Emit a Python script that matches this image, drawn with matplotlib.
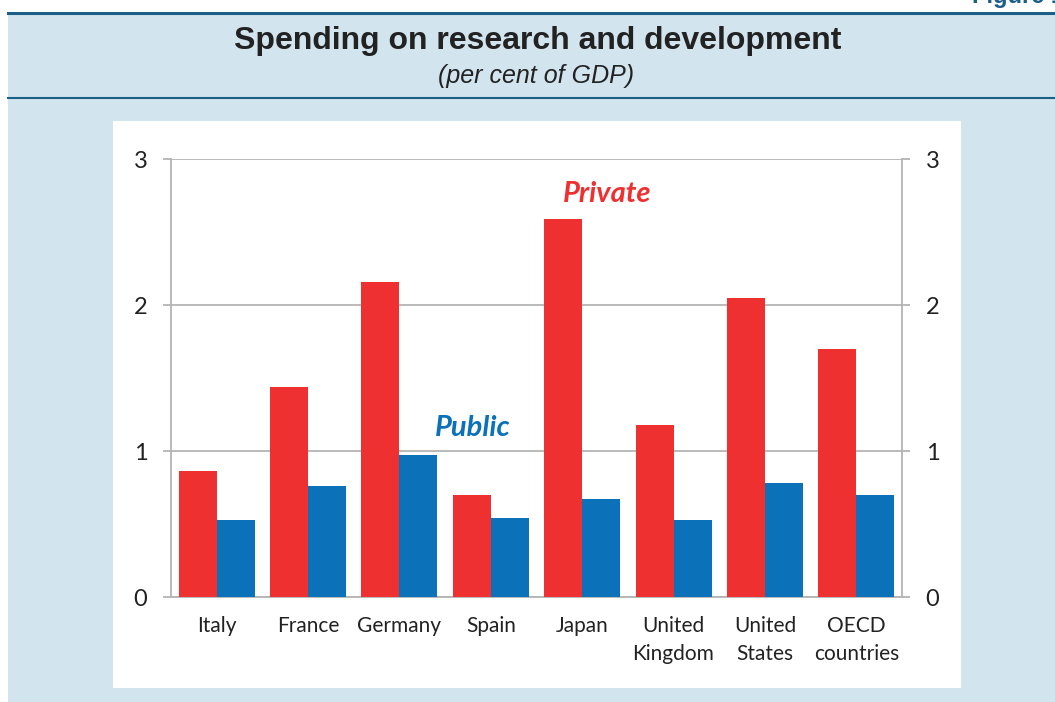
import matplotlib.pyplot as plt
import numpy as np
from matplotlib.patches import Rectangle
from matplotlib.lines import Line2D

# values (per cent of GDP)
countries = ['Italy', 'France', 'Germany', 'Spain', 'Japan',
             'United\nKingdom', 'United\nStates', 'OECD\ncountries']
private = [0.86, 1.44, 2.16, 0.70, 2.59, 1.18, 2.05, 1.70]
public = [0.53, 0.76, 0.97, 0.54, 0.67, 0.53, 0.78, 0.70]
yticks = [0, 1, 2, 3]

W, H = 1055, 702
red = '#ee3030'
blue = '#0b72b9'
bg = '#d2e4ee'
dark = '#1b5e86'
grid = '#b4b4b4'

fig = plt.figure(figsize=(W / 100, H / 100), dpi=100)
fig.patch.set_facecolor('white')

def fx(px):
    return px / W

def fy(py):
    return 1 - py / H

# light blue background, header lines and white panel
fig.patches.append(Rectangle((fx(8), 0), 1, fy(13), transform=fig.transFigure,
                             facecolor=bg, edgecolor='none', zorder=-2))
fig.lines.append(Line2D([fx(8), 1], [fy(13), fy(13)], transform=fig.transFigure,
                        color=dark, lw=2.2))
fig.lines.append(Line2D([fx(8), 1], [fy(98), fy(98)], transform=fig.transFigure,
                        color=dark, lw=1.5))
fig.patches.append(Rectangle((fx(113), fy(688)), fx(961 - 113), (688 - 121) / H,
                             transform=fig.transFigure, facecolor='white',
                             edgecolor='none', zorder=-1))

fig.text(fx(1064), fy(-4), 'Figure 1', ha='right', va='center', fontsize=17,
         fontweight='bold', color=dark, family='Liberation Sans')
fig.text(fx(538), fy(41), 'Spending on research and development', ha='center',
         va='center', fontsize=23, fontweight='bold', color='#222222',
         family='Liberation Sans')
fig.text(fx(536), fy(76), '(per cent of GDP)', ha='center', va='center',
         fontsize=18, style='italic', color='#222222', family='Liberation Sans')

ax = fig.add_axes([fx(171), fy(597), fx(902 - 171), (597 - 159) / H])
ax.set_facecolor('white')

x = np.arange(len(countries))
bw = 0.416
ax.bar(x - bw / 2, private, width=bw, color=red, zorder=3)
ax.bar(x + bw / 2, public, width=bw, color=blue, zorder=3)

ax.set_xlim(-0.5, len(countries) - 0.5)
ax.set_ylim(0, 3)
ax.set_yticks(yticks)
ax.yaxis.grid(True, color=grid, lw=1.3, zorder=0)
ax.set_axisbelow(True)

ax.spines['top'].set_visible(False)
for s in ['left', 'right', 'bottom']:
    ax.spines[s].set_color(grid)
    ax.spines[s].set_linewidth(1.3)

ax.tick_params(axis='y', which='both', left=True, right=True, labelleft=True,
               labelright=True, length=6, width=1.3, color=grid, direction='out',
               labelsize=17, pad=11, labelcolor='#222222')
ax.set_xticks(x)
ax.set_xticklabels(countries, fontsize=15, color='#222222', linespacing=1.45)
ax.tick_params(axis='x', length=0, pad=14)
for lab in ax.get_xticklabels():
    lab.set_family('Lato')
for t in ax.yaxis.get_major_ticks():
    t.label1.set_family('Lato')
    t.label2.set_family('Lato')

ax.text(4.27, 2.76, 'Private', ha='center', va='center', fontsize=21,
        fontweight='bold', style='italic', color=red, family='Lato')
ax.text(2.8, 1.16, 'Public', ha='center', va='center', fontsize=21,
        fontweight='bold', style='italic', color=blue, family='Lato')

fig.savefig('out.png', dpi=100)
